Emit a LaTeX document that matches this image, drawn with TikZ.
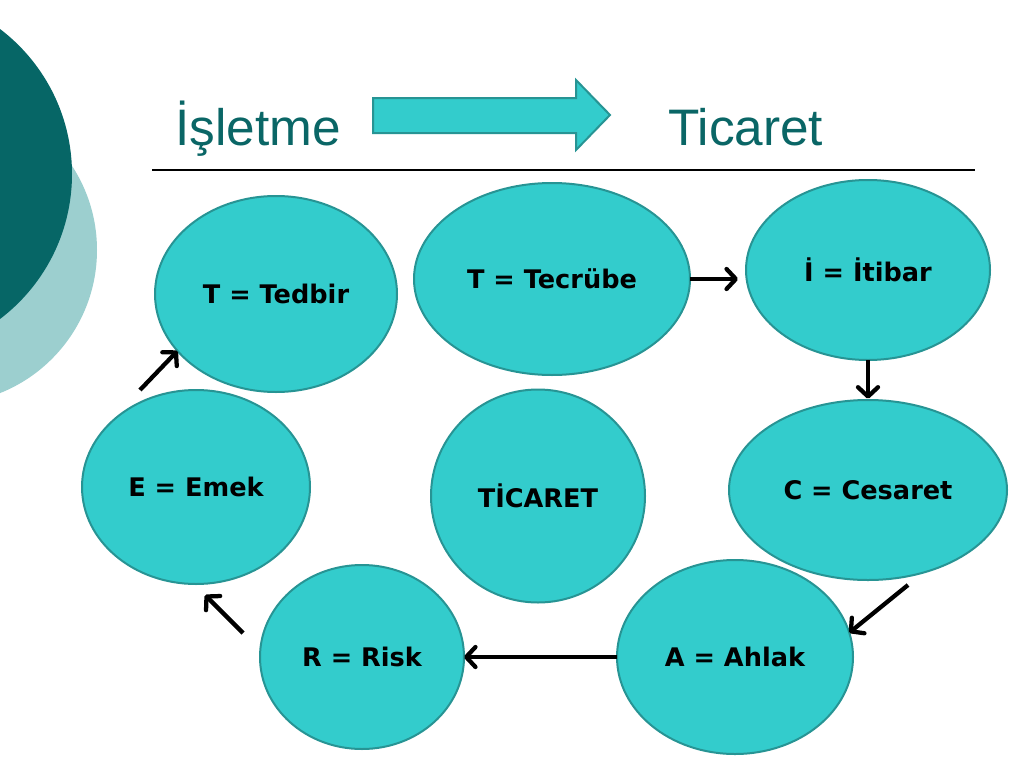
\documentclass[tikz,border=0pt]{standalone}
\usepackage{fontspec}
\setmainfont{Liberation Sans}
\newfontfamily\lblfont{DejaVu Sans}
\usetikzlibrary{arrows.meta,shapes.geometric}
\definecolor{fillc}{HTML}{33CCCC}
\definecolor{edgec}{HTML}{279494}
\definecolor{darkt}{HTML}{066666}
\definecolor{lightt}{HTML}{9CCFCF}
\definecolor{titlec}{HTML}{0A6666}
\newdimen\px \px=0.75pt
\tikzset{
  bub/.style={ellipse, fill=fillc, draw=edgec, line width=1.5pt,
    font=\lblfont\bfseries\fontsize{19.2}{23}\selectfont, text=black,
    inner sep=0pt, outer sep=0pt},
  arr/.style={line width=3.2pt, black, -{Straight Barb[length=7pt,width=15pt,round]}},
  ttl/.style={anchor=base west, text=titlec, font=\fontsize{38.5}{46}\selectfont, inner sep=0pt},
}
\begin{document}
\begin{tikzpicture}[x=0.75pt,y=-0.75pt]
\useasboundingbox (0,0) rectangle (1024,767);
\clip (0,0) rectangle (1024,767);
\fill[white] (0,0) rectangle (1024,767);
% decorative circles
\fill[lightt] (-57,250) circle[radius=154];
\fill[darkt] (-110,174) circle[radius=182];
% title
\node[ttl] (t1) at (175,145) {İşletme};
\node[ttl] (t2) at (668,145) {Ticaret};
\filldraw[fill=fillc, draw=edgec, line width=1.5pt]
  (373,98) -- (576,98) -- (576,80) -- (610,115) -- (576,150) -- (576,133) -- (373,133) -- cycle;
\draw[line width=0.9pt] (152,170) -- (975,170);
% bubbles
\node[bub, minimum width=242\px, minimum height=196\px] (tedbir)  at (276,294) {T = Tedbir};
\node[bub, minimum width=276\px, minimum height=192\px] (tecrube) at (552,279) {T = Tecrübe};
\node[bub, minimum width=244\px, minimum height=180\px] (itibar)  at (868,270) {İ = İtibar};
\node[bub, minimum width=228\px, minimum height=194\px] (emek)    at (196,487) {E = Emek};
\node[bub, minimum width=214\px, minimum height=213\px] (ticaret) at (538,496) {TİCARET};
\node[bub, minimum width=278\px, minimum height=180\px] (cesaret) at (868,490) {C = Cesaret};
\node[bub, minimum width=204\px, minimum height=184\px] (risk)    at (362,657) {R = Risk};
\node[bub, minimum width=236\px, minimum height=194\px] (ahlak)   at (735,657) {A = Ahlak};
% connectors
\draw[arr, shorten >=6pt] (tecrube.east) -- (itibar.west |- tecrube.east);
\draw[arr, shorten >=1pt] (itibar.south) -- (cesaret.north);
\draw[arr] ([shift={(30pt,-3.75pt)}]cesaret.south) -- (ahlak.12);
\draw[arr] (ahlak.west) -- (risk.east);
\draw[arr] ([shift={(-12.75pt,18pt)}]risk.west) -- ([shift={(6.75pt,-8.25pt)}]emek.south);
\draw[arr] ([shift={(-42pt,0pt)}]emek.north) -- (tedbir.210);
\end{tikzpicture}
\end{document}
